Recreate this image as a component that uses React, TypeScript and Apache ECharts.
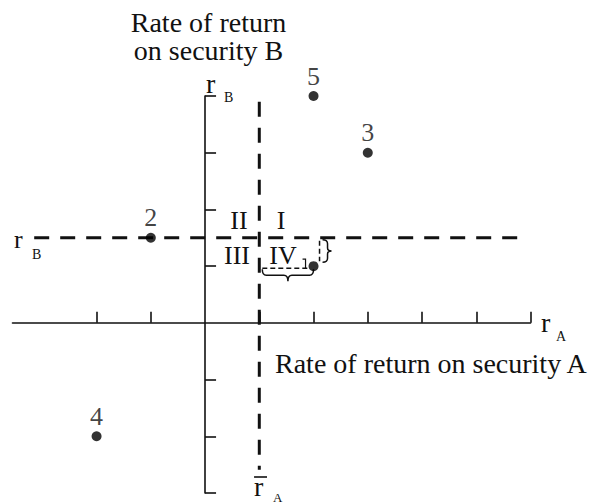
import React, { useEffect, useRef } from 'react';
import * as echarts from 'echarts';

// ---- data ----
const pointLabels = ['5', '3', '2', '4', ''];
const returnsA = [2, 3, -1, -2, 2];
const returnsB = [4, 3, 1.5, -2, 1];
const meanA = 1;
const meanB = 1.5;
const xTicks = [-2, -1, 1, 2, 3, 4, 5, 6];
const yTicks = [-3, -2, -1, 1, 2, 3, 4];
const xRange = [-3.55, 6];
const yRange = [-3, 4];
const meanBLineSpan = [-3.15, 5.9];
const meanALineSpan = [3.9, -2.59];
const quadrantLabels = ['II', 'I', 'III', 'IV'];
const highlightedPoint = 4;

const FONT = '"Liberation Serif", "Times New Roman", serif';
const INK = '#111';

export default function App() {
  const ref = useRef<HTMLDivElement>(null);

  useEffect(() => {
    if (!ref.current) return;
    const chart = echarts.init(ref.current, undefined, { renderer: 'svg' });

    const txt = (
      text: string,
      x: number,
      y: number,
      size: number,
      align = 'center',
      lineHeight?: number
    ) => ({
      type: 'text',
      x,
      y,
      silent: true,
      style: {
        text,
        fontSize: size,
        fontFamily: FONT,
        fill: INK,
        align,
        verticalAlign: 'middle',
        lineHeight: lineHeight ?? size,
      },
    });

    const quadrantPos = [
      [239, 220],
      [281, 220],
      [237, 255],
      [283, 255],
    ];

    const option: any = {
      animation: false,
      backgroundColor: '#fff',
      grid: { left: 12.5, right: 71.5, top: 96, bottom: 10, containLabel: false },
      xAxis: {
        type: 'value',
        min: xRange[0],
        max: xRange[1],
        axisLine: { show: true, onZero: true, lineStyle: { color: INK, width: 1.6 } },
        axisTick: {
          show: true,
          inside: true,
          length: 11,
          customValues: xTicks,
          lineStyle: { color: INK, width: 1.6 },
        },
        axisLabel: { show: false },
        splitLine: { show: false },
      },
      yAxis: {
        type: 'value',
        min: yRange[0],
        max: yRange[1],
        axisLine: { show: true, onZero: true, lineStyle: { color: INK, width: 1.6 } },
        axisTick: {
          show: true,
          inside: true,
          length: 11,
          customValues: yTicks,
          lineStyle: { color: INK, width: 1.6 },
        },
        axisLabel: { show: false },
        splitLine: { show: false },
      },
      graphic: [
        txt('Rate of return\non security B', 208.5, 36.5, 28, 'center', 28),
        txt('Rate of return on security A', 275, 363, 28, 'left'),
        // axis names
        txt('r', 541, 322, 28, 'left'),
        txt('A', 556, 336, 14, 'left'),
        txt('r', 206, 83, 28, 'left', 24),
        txt('B', 224, 97, 14, 'left'),
        // mean labels
        txt('r', 14, 239, 26, 'left', 22),
        txt('B', 32, 254, 14, 'left'),
        txt('r', 254, 486, 28, 'left', 22),
        txt('A', 273, 497, 13, 'left', 12),
        {
          type: 'line',
          silent: true,
          shape: { x1: 254, y1: 477, x2: 267, y2: 477 },
          style: { stroke: INK, lineWidth: 1.6 },
        },
        ...quadrantLabels.map((q, i) => txt(q, quadrantPos[i][0], quadrantPos[i][1], 26, 'center', 22)),
      ],
      series: [
        {
          type: 'line',
          data: [
            [meanBLineSpan[0], meanB],
            [meanBLineSpan[1], meanB],
          ],
          symbol: 'none',
          silent: true,
          lineStyle: { color: INK, width: 3, type: [15, 11] },
          z: 2,
        },
        {
          type: 'line',
          data: [
            [meanA, meanALineSpan[0]],
            [meanA, meanALineSpan[1]],
          ],
          symbol: 'none',
          silent: true,
          lineStyle: { color: INK, width: 3, type: [15, 11] },
          z: 2,
        },
        {
          type: 'custom',
          clip: false,
          silent: true,
          z: 3,
          data: [[returnsA[highlightedPoint], returnsB[highlightedPoint]]],
          renderItem: (_params: any, api: any) => {
            const p = api.coord([api.value(0), api.value(1)]);
            const m = api.coord([meanA, meanB]);
            const px = p[0];
            const py = p[1];
            const x0 = m[0] + 3;
            const x1 = px;
            const cx = (x0 + x1) / 2;
            const yT = py + 3;
            const yM = py + 9;
            const yTip = py + 15;
            const braceBottom =
              `M${x0} ${yT} Q${x0} ${yM} ${x0 + 4} ${yM} L${cx - 4} ${yM} ` +
              `Q${cx} ${yM} ${cx} ${yTip} Q${cx} ${yM} ${cx + 4} ${yM} ` +
              `L${x1 - 4} ${yM} Q${x1} ${yM} ${x1} ${yT}`;
            const xL = px + 9;
            const xM = px + 14;
            const xTip = px + 18;
            const y0 = m[1] + 2;
            const y1 = py - 4;
            const cy = (y0 + y1) / 2;
            const braceRight =
              `M${xL} ${y0} Q${xM} ${y0} ${xM} ${y0 + 4} L${xM} ${cy - 3} ` +
              `Q${xM} ${cy} ${xTip} ${cy} Q${xM} ${cy} ${xM} ${cy + 3} ` +
              `L${xM} ${y1 - 4} Q${xM} ${y1} ${xL} ${y1}`;
            const thin = { stroke: INK, lineWidth: 1.5, fill: 'none' };
            return {
              type: 'group',
              children: [
                {
                  type: 'line',
                  shape: { x1: x0, y1: py + 2, x2: px - 5, y2: py + 2 },
                  style: { ...thin, lineDash: [5, 3] },
                },
                {
                  type: 'line',
                  shape: { x1: px + 6, y1: m[1] + 3, x2: px + 6, y2: py - 5 },
                  style: { ...thin, lineDash: [5, 3] },
                },
                { type: 'path', shape: { pathData: braceBottom }, style: thin },
                { type: 'path', shape: { pathData: braceRight }, style: thin },
                {
                  type: 'polyline',
                  shape: {
                    points: [
                      [px - 11, py - 7],
                      [px - 8, py - 7],
                      [px - 8, py + 2],
                    ],
                  },
                  style: { ...thin, lineWidth: 1.2 },
                },
              ],
            };
          },
        },
        {
          type: 'scatter',
          data: returnsA.map((a, i) => [a, returnsB[i]]),
          symbol: 'circle',
          symbolSize: 10,
          silent: true,
          itemStyle: { color: '#000' },
          z: 4,
          label: {
            show: true,
            position: 'top',
            distance: 2,
            formatter: (p: any) => pointLabels[p.dataIndex],
            fontSize: 26,
            fontFamily: FONT,
            color: INK,
          },
        },
      ],
    };

    chart.setOption(option);
    return () => chart.dispose();
  }, []);

  return (
    <div
      ref={ref}
      style={{ position: 'fixed', left: 0, top: 0, width: 602, height: 503, background: '#fff' }}
    />
  );
}
